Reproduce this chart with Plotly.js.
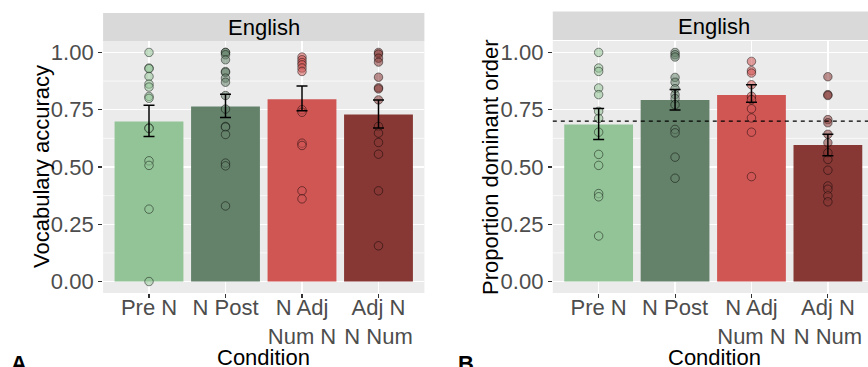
<!DOCTYPE html>
<html>
<head>
<meta charset="utf-8">
<script src="https://cdn.plot.ly/plotly-3.0.1.min.js"></script>
<style>
  html, body { margin: 0; padding: 0; background: #ffffff; }
  #chart { width: 868px; height: 367px; }
</style>
</head>
<body>
<div id="chart"></div>
<script>
// ---------- data ----------
const categories = ['Pre N', 'N Post', 'N Adj Num N', 'Adj N N Num'];
const tickLabels = ['Pre N', 'N Post', 'N Adj<br>Num N', 'Adj N<br>N Num'];
const yTickVals = [0, 0.25, 0.5, 0.75, 1.0];
const yTickLabels = ['0.00', '0.25', '0.50', '0.75', '1.00'];
const barColors = ['#93C497', '#64826A', '#D05654', '#873835'];
const pointFill = ['rgba(147,196,151,0.55)', 'rgba(100,130,106,0.55)', 'rgba(208,86,84,0.55)', 'rgba(135,56,53,0.55)'];

// Panel A: vocabulary accuracy
const vocabMean = [0.699, 0.764, 0.796, 0.729];
const vocabErrHigh = [0.769, 0.818, 0.854, 0.793];
const vocabErrLow = [0.633, 0.716, 0.745, 0.670];
const vocabPreN = [1.0, 0.932, 0.929, 0.895, 0.862, 0.849, 0.808, 0.80, 0.671, 0.668, 0.527, 0.507, 0.316, 0.0];
const vocabNPost = [1.0, 1.0, 0.99, 0.968, 0.917, 0.913, 0.888, 0.870, 0.812, 0.753, 0.677, 0.674, 0.642, 0.517, 0.505, 0.330];
const vocabNAdjNumN = [0.980, 0.968, 0.956, 0.946, 0.932, 0.917, 0.750, 0.739, 0.604, 0.594, 0.396, 0.361];
const vocabAdjNNNum = [1.0, 0.993, 0.975, 0.958, 0.892, 0.846, 0.841, 0.793, 0.677, 0.648, 0.607, 0.556, 0.396, 0.156];

// Panel B: proportion dominant order
const orderMean = [0.686, 0.793, 0.814, 0.596];
const orderErrHigh = [0.755, 0.838, 0.859, 0.643];
const orderErrLow = [0.620, 0.749, 0.783, 0.549];
const orderPreN = [1.0, 0.932, 0.917, 0.845, 0.816, 0.743, 0.712, 0.652, 0.555, 0.507, 0.384, 0.370, 0.199];
const orderNPost = [1.0, 0.99, 0.98, 0.891, 0.870, 0.842, 0.816, 0.799, 0.772, 0.664, 0.649, 0.543, 0.451];
const orderNAdjNumN = [0.961, 0.920, 0.910, 0.859, 0.809, 0.794, 0.754, 0.714, 0.652, 0.458];
const orderAdjNNNum = [0.894, 0.816, 0.812, 0.707, 0.693, 0.643, 0.606, 0.562, 0.533, 0.486, 0.417, 0.403, 0.374, 0.348];
const chanceLevel = 0.7;

// ---------- traces ----------
const W = 868, H = 367;
function panelTraces(mean, hi, lo, pointSets, xa, ya) {
  const traces = [];
  traces.push({
    type: 'bar', x: categories, y: mean, xaxis: xa, yaxis: ya,
    width: 0.9,
    marker: { color: barColors, line: { width: 0 } },
    hoverinfo: 'skip', showlegend: false
  });
  pointSets.forEach((pts, i) => {
    traces.push({
      type: 'scatter', mode: 'markers', xaxis: xa, yaxis: ya,
      x: pts.map(() => categories[i]), y: pts,
      marker: { size: 8.5, color: pointFill[i], line: { color: 'rgba(0,0,0,0.5)', width: 0.9 } },
      hoverinfo: 'skip', showlegend: false, cliponaxis: false
    });
  });
  traces.push({
    type: 'scatter', mode: 'markers', xaxis: xa, yaxis: ya,
    x: categories, y: mean,
    marker: { size: 1, opacity: 0 },
    error_y: {
      type: 'data', symmetric: false,
      array: hi.map((v, i) => v - mean[i]),
      arrayminus: lo.map((v, i) => mean[i] - v),
      color: '#000000', thickness: 1.5, width: 5.5
    },
    hoverinfo: 'skip', showlegend: false
  });
  return traces;
}

const data = [].concat(
  panelTraces(vocabMean, vocabErrHigh, vocabErrLow, [vocabPreN, vocabNPost, vocabNAdjNumN, vocabAdjNNNum], 'x', 'y'),
  panelTraces(orderMean, orderErrHigh, orderErrLow, [orderPreN, orderNPost, orderNAdjNumN, orderAdjNNNum], 'x2', 'y2')
);

// ---------- layout ----------
const px = v => v / W;
const py = v => (H - v) / H;
const FAMILY = 'Liberation Sans, Arial, sans-serif';
const titleFont = () => ({ family: FAMILY, size: 22, color: '#000000' });

function xAxis(domain, range, anchor) {
  return {
    domain: domain, range: range, anchor: anchor, type: 'category',
    categoryorder: 'array', categoryarray: categories,
    tickmode: 'array', tickvals: categories, ticktext: tickLabels,
    showgrid: true, gridcolor: '#FFFFFF', gridwidth: 1.4,
    ticks: 'outside', ticklen: 4, tickwidth: 1.1, tickcolor: '#333333',
    ticklabelstandoff: -9,
    tickfont: { family: FAMILY, size: 22, color: '#4D4D4D' },
    showline: false, zeroline: false, fixedrange: true
  };
}
function yAxis(anchor) {
  return {
    domain: [py(293), py(41)], range: [-0.05, 1.05], anchor: anchor,
    tickmode: 'array', tickvals: yTickVals, ticktext: yTickLabels,
    showgrid: true, gridcolor: '#FFFFFF', gridwidth: 1.4,
    ticks: 'outside', ticklen: 4, tickwidth: 1.1, tickcolor: '#333333',
    tickfont: { family: FAMILY, size: 22, color: '#4D4D4D' },
    showline: false, zeroline: false, fixedrange: true
  };
}

const minorGrid = v => ({ type: 'line', xref: v[0] + ' domain', yref: v[1], x0: 0, x1: 1, y0: v[2], y1: v[2], line: { color: '#FFFFFF', width: 0.7 }, layer: 'below' });

const layout = {
  width: W, height: H,
  margin: { l: 0, r: 0, t: 0, b: 0 },
  paper_bgcolor: '#FFFFFF', plot_bgcolor: '#EBEBEB',
  showlegend: false, barmode: 'overlay',
  xaxis: xAxis([px(103.1), px(424.4)], [-0.6, 3.6], 'y'),
  yaxis: yAxis('x'),
  xaxis2: xAxis([px(552.8), 1.0], [-0.6, 3.525], 'y2'),
  yaxis2: yAxis('x2'),
  shapes: [
    { type: 'rect', xref: 'paper', yref: 'paper', x0: px(103.1), x1: px(424.4), y0: py(41), y1: py(13), fillcolor: '#D9D9D9', line: { width: 0 }, layer: 'below' },
    { type: 'rect', xref: 'paper', yref: 'paper', x0: px(552.8), x1: 1.0, y0: py(40), y1: py(11.5), fillcolor: '#D9D9D9', line: { width: 0 }, layer: 'below' },
    { type: 'line', xref: 'x2 domain', yref: 'y2', x0: 0, x1: 1, y0: chanceLevel, y1: chanceLevel, line: { color: '#000000', width: 1.3, dash: '4px,4px' }, layer: 'above' }
  ].concat([0.125, 0.375, 0.625, 0.875].map(v => minorGrid(['x', 'y', v])))
   .concat([0.125, 0.375, 0.625, 0.875].map(v => minorGrid(['x2', 'y2', v]))),
  annotations: [
    { text: 'English', xref: 'paper', yref: 'paper', x: px(263.7), y: py(27.5), xanchor: 'center', yanchor: 'middle', showarrow: false, font: titleFont() },
    { text: 'English', xref: 'paper', yref: 'paper', x: px(714), y: py(26.5), xanchor: 'center', yanchor: 'middle', showarrow: false, font: titleFont() },
    { text: 'Condition', xref: 'paper', yref: 'paper', x: px(263.7), y: py(357), xanchor: 'center', yanchor: 'middle', showarrow: false, font: titleFont() },
    { text: 'Condition', xref: 'paper', yref: 'paper', x: px(714), y: py(357), xanchor: 'center', yanchor: 'middle', showarrow: false, font: titleFont() },
    { text: 'Vocabulary accuracy', xref: 'paper', yref: 'paper', x: px(42), y: py(167), xanchor: 'center', yanchor: 'middle', textangle: -90, showarrow: false, font: titleFont() },
    { text: 'Proportion dominant order', xref: 'paper', yref: 'paper', x: px(491), y: py(167), xanchor: 'center', yanchor: 'middle', textangle: -90, showarrow: false, font: titleFont() },
    { text: '<b>A</b>', xref: 'paper', yref: 'paper', x: px(9), y: py(349), xanchor: 'left', yanchor: 'top', showarrow: false, font: titleFont() },
    { text: '<b>B</b>', xref: 'paper', yref: 'paper', x: px(456), y: py(349), xanchor: 'left', yanchor: 'top', showarrow: false, font: titleFont() }
  ]
};

Plotly.newPlot('chart', data, layout, { displayModeBar: false, staticPlot: true });
</script>
</body>
</html>
